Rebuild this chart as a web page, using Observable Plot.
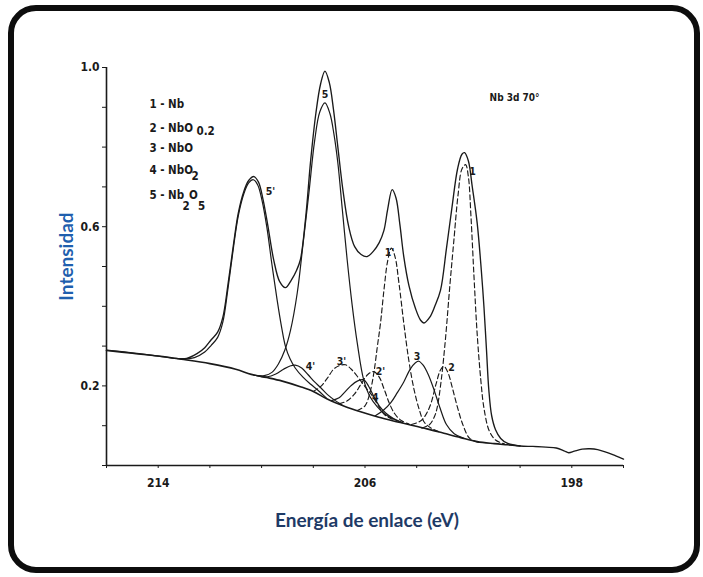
<!DOCTYPE html>
<html><head><meta charset="utf-8">
<script src="https://cdn.jsdelivr.net/npm/d3@7"></script>
<script src="https://cdn.jsdelivr.net/npm/@observablehq/plot@0.6"></script>
<style>
html,body{margin:0;padding:0;background:#fff;overflow:hidden}
#wrap{position:relative;width:703px;height:577px;background:#fff}
#frame{position:absolute;left:8px;top:5px;width:692px;height:568px;box-sizing:border-box;border:6px solid #0d0d0d;border-radius:28px;pointer-events:none}
#chart{position:absolute;left:0;top:0}
</style></head><body>
<div id="wrap"><div id="chart"></div><div id="frame"></div></div>
<script>
// ---- data (binding energy eV, normalised intensity) ----
const envelope = [[216.0,0.290],[215.0,0.283],[214.0,0.275],[213.3,0.269],[212.9,0.269],[212.5,0.281],[212.2,0.296],[211.95,0.316],[211.7,0.335],[211.5,0.372],[211.3,0.455],[211.08,0.559],[210.9,0.635],[210.69,0.688],[210.5,0.716],[210.3,0.726],[210.12,0.712],[209.95,0.67],[209.77,0.607],[209.53,0.516],[209.3,0.462],[209.08,0.447],[208.85,0.466],[208.65,0.49],[208.5,0.517],[208.3,0.62],[208.1,0.768],[207.9,0.885],[207.72,0.958],[207.55,0.991],[207.38,0.962],[207.22,0.895],[207.05,0.80],[206.85,0.69],[206.63,0.60],[206.4,0.55],[206.15,0.53],[205.92,0.525],[205.68,0.538],[205.45,0.56],[205.27,0.59],[205.12,0.645],[204.95,0.693],[204.8,0.672],[204.65,0.605],[204.5,0.525],[204.3,0.452],[204.05,0.395],[203.85,0.365],[203.72,0.358],[203.5,0.372],[203.3,0.40],[203.08,0.44],[202.85,0.545],[202.63,0.651],[202.42,0.745],[202.25,0.782],[202.15,0.786],[202.0,0.765],[201.85,0.70],[201.66,0.609],[201.5,0.49],[201.4,0.40],[201.3,0.29],[201.21,0.19],[201.1,0.125],[200.95,0.09],[200.75,0.068],[200.5,0.056],[200.0,0.049],[199.5,0.048],[199.0,0.046],[198.6,0.044],[198.3,0.037],[198.12,0.032],[197.9,0.036],[197.6,0.041],[197.3,0.042],[197.0,0.040],[196.65,0.033],[196.3,0.024],[196.0,0.016]];
const background = [[216.0,0.289],[215.0,0.282],[214.0,0.275],[213.1,0.267],[212.0,0.256],[211.0,0.242],[210.4,0.229],[209.8,0.221],[209.2,0.212],[208.5,0.198],[208.0,0.186],[207.46,0.167],[206.8,0.149],[206.17,0.135],[205.5,0.122],[204.9,0.112],[204.24,0.102],[203.6,0.092],[202.95,0.081],[202.3,0.070],[201.66,0.060],[201.0,0.055],[200.5,0.052],[200.0,0.049]];
const nb2o5_p = [[213.1,0.267],[212.6,0.271],[212.2,0.285],[211.95,0.302],[211.7,0.322],[211.5,0.36],[211.3,0.445],[211.08,0.552],[210.9,0.628],[210.69,0.682],[210.5,0.71],[210.32,0.718],[210.15,0.705],[209.98,0.665],[209.8,0.60],[209.6,0.505],[209.4,0.416],[209.22,0.345],[209.08,0.30],[208.9,0.268],[208.7,0.245],[208.4,0.222],[208.1,0.204],[207.8,0.188],[207.5,0.17]];
const nb2o5 = [[210.3,0.227],[209.9,0.226],[209.6,0.234],[209.35,0.255],[209.1,0.29],[208.88,0.34],[208.62,0.434],[208.4,0.555],[208.17,0.685],[207.95,0.815],[207.75,0.888],[207.55,0.911],[207.36,0.885],[207.2,0.832],[207.05,0.76],[206.88,0.645],[206.69,0.517],[206.5,0.405],[206.3,0.308],[206.05,0.215],[205.8,0.172],[205.53,0.148],[205.25,0.13],[204.95,0.118],[204.6,0.108]];
const nb_p = [[206.3,0.138],[206.0,0.15],[205.82,0.18],[205.66,0.232],[205.52,0.30],[205.4,0.358],[205.26,0.445],[205.12,0.515],[204.98,0.546],[204.84,0.525],[204.68,0.455],[204.5,0.358],[204.3,0.262],[204.1,0.19],[203.9,0.14],[203.72,0.11],[203.45,0.094],[203.1,0.084]];
const nb = [[203.8,0.094],[203.5,0.103],[203.3,0.125],[203.2,0.148],[203.05,0.215],[202.89,0.316],[202.72,0.45],[202.56,0.567],[202.4,0.68],[202.25,0.745],[202.11,0.756],[202.0,0.725],[201.9,0.625],[201.78,0.47],[201.66,0.33],[201.52,0.215],[201.4,0.145],[201.2,0.088],[200.95,0.064],[200.6,0.054]];
const nbo = [[205.6,0.125],[205.3,0.138],[205.0,0.158],[204.75,0.183],[204.5,0.21],[204.25,0.242],[204.05,0.258],[203.92,0.262],[203.75,0.252],[203.55,0.228],[203.34,0.192],[203.1,0.145],[202.85,0.103],[202.55,0.08],[202.2,0.069]];
const nbo02 = [[204.2,0.103],[203.9,0.11],[203.7,0.122],[203.47,0.152],[203.25,0.205],[203.08,0.24],[202.95,0.249],[202.8,0.235],[202.62,0.195],[202.43,0.148],[202.2,0.10],[201.95,0.068],[201.6,0.058]];
const nbo_p = [[208.0,0.186],[207.72,0.198],[207.45,0.22],[207.2,0.243],[206.95,0.252],[206.75,0.253],[206.5,0.24],[206.25,0.22],[206.0,0.198],[205.75,0.178],[205.5,0.152],[205.25,0.128],[204.95,0.116]];
const nbo2_p = [[210.2,0.226],[209.78,0.223],[209.45,0.23],[209.15,0.242],[208.9,0.25],[208.7,0.252],[208.45,0.245],[208.2,0.228],[207.95,0.21],[207.72,0.196],[207.45,0.178],[207.15,0.163],[206.9,0.153]];
const nbo02_p = [[207.0,0.155],[206.7,0.162],[206.4,0.18],[206.15,0.205],[205.9,0.228],[205.66,0.236],[205.45,0.222],[205.25,0.19],[205.05,0.155],[204.85,0.13],[204.6,0.113],[204.3,0.104]];
const nbo2 = [[207.3,0.163],[207.0,0.17],[206.8,0.183],[206.55,0.2],[206.3,0.212],[206.05,0.215],[205.85,0.198],[205.65,0.172],[205.45,0.15],[205.2,0.132],[204.9,0.118],[204.55,0.108]];

const xTicks = [216,214,212,210,208,206,204,202,200,198,196];
const xTickLabels = [214,206,198];
const yTicks = [0,0.1,0.2,0.3,0.4,0.5,0.6,0.7,0.8,0.9,1.0];
const yTickLabels = [0.2,0.6,1.0];

const peakLabels = [
  {t:"5'", x:209.66, y:0.688},{t:"5", x:207.55, y:0.932},{t:"1", x:201.84, y:0.739},
  {t:"1'", x:205.05, y:0.535},{t:"3", x:203.99, y:0.273},{t:"2", x:202.65, y:0.246},
  {t:"2'", x:205.4, y:0.236},{t:"3'", x:206.91, y:0.261},{t:"4'", x:208.11, y:0.249},{t:"4", x:205.6, y:0.17}
];
const legendMain = [
  {t:"1 - Nb", x:214.34, y:0.907},{t:"2 - NbO", x:214.34, y:0.847},{t:"3 - NbO", x:214.34, y:0.797},
  {t:"4 - NbO", x:214.34, y:0.741},{t:"5 - Nb", x:214.34, y:0.678},{t:"O", x:212.81, y:0.678}
];
const legendSub = [
  {t:"0.2", x:212.52, y:0.839},{t:"2", x:212.71, y:0.726},{t:"2", x:213.06, y:0.651},{t:"5", x:212.46, y:0.651}
];
const spectrumTag = [{t:"Nb 3d 70°", x:201.18, y:0.925}];
const xTitle = "Energía de enlace (eV)";
const yTitle = "Intensidad";

// ---- drawing ----
const ink = "#1a1a1a";
const cond = "'Liberation Sans Narrow','DejaVu Sans Condensed','Arial Narrow','Roboto',sans-serif";
const xy = {x: d => d[0], y: d => d[1], curve: "catmull-rom"};
const solid = (data, w=1.2) => Plot.line(data, {...xy, stroke: ink, strokeWidth: w});
const dashed = (data) => Plot.line(data, {...xy, stroke: ink, strokeWidth: 1.15, strokeDasharray: "5,3"});
const near = (arr, v) => arr.some(a => Math.abs(a - v) < 1e-6);

const chart = Plot.plot({
  width: 703, height: 577,
  marginLeft: 106, marginRight: 80, marginTop: 67, marginBottom: 112,
  style: {background: "transparent"},
  x: {domain: [216, 196]},
  y: {domain: [0, 1]},
  marks: [
    Plot.ruleY([0], {stroke: ink, strokeWidth: 1.6}),
    Plot.ruleX([216], {stroke: ink, strokeWidth: 1.6}),
    Plot.axisX({ticks: xTicks, tickSize: 3, tickPadding: 10, label: null, stroke: ink,
      tickFormat: d => near(xTickLabels, d) ? String(d) : "",
      fontFamily: cond, fontSize: 12, fontWeight: "bold", fill: ink}),
    Plot.axisY({ticks: yTicks, tickSize: 4, tickPadding: 3, label: null, stroke: ink,
      tickFormat: d => near(yTickLabels, d) ? d.toFixed(1) : "",
      fontFamily: cond, fontSize: 12, fontWeight: "bold", fill: ink}),
    solid(background, 1.6),
    solid(nb2o5_p), solid(nb2o5), solid(nbo2_p), solid(nbo2), solid(nbo),
    dashed(nbo_p), dashed(nbo02_p), dashed(nb_p), dashed(nbo02), dashed(nb),
    solid(envelope, 1.35),
    Plot.text(peakLabels, {x: "x", y: "y", text: "t", fontFamily: cond, fontSize: 10.5, fontWeight: "bold", fill: ink}),
    Plot.text(legendMain, {x: "x", y: "y", text: "t", textAnchor: "start", fontFamily: cond, fontSize: 11.5, fontWeight: "bold", fill: ink}),
    Plot.text(legendSub, {x: "x", y: "y", text: "t", textAnchor: "start", fontFamily: cond, fontSize: 11.5, fontWeight: "bold", fill: ink}),
    Plot.text(spectrumTag, {x: "x", y: "y", text: "t", textAnchor: "start", fontFamily: cond, fontSize: 10, fontWeight: "bold", fill: ink}),
    Plot.text([xTitle], {frameAnchor: "bottom", textAnchor: "middle", lineAnchor: "middle", dx: 2, dy: 55, fontFamily: "Lato, 'Open Sans', sans-serif", fontSize: 19, fontWeight: "bold", fill: "#1e3a66"}),
    Plot.text([yTitle], {frameAnchor: "left", textAnchor: "middle", lineAnchor: "middle", rotate: -90, dx: -40, dy: -10, fontFamily: "Lato, 'Open Sans', sans-serif", fontSize: 19, fontWeight: "bold", fill: "#1f5fae"})
  ]
});
document.getElementById("chart").appendChild(chart);
</script>
</body></html>
